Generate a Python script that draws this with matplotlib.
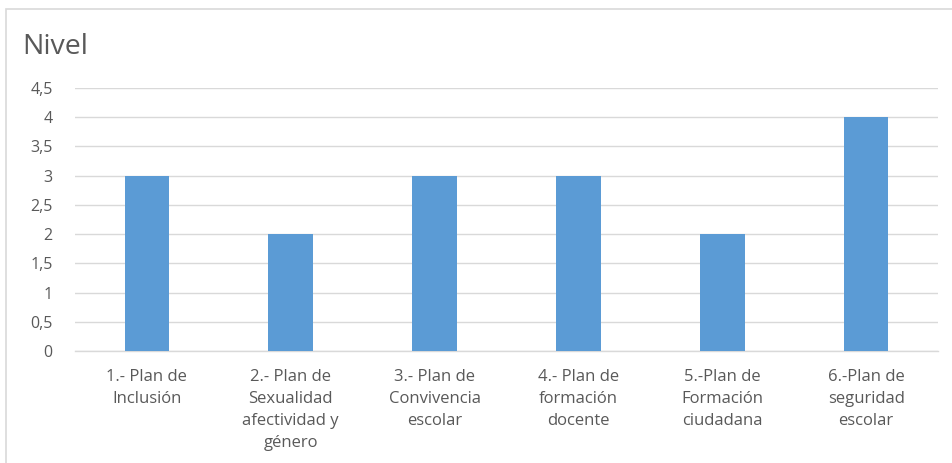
import matplotlib.pyplot as plt
from matplotlib.patches import Rectangle

# datos
categorias = ["1.- Plan de\nInclusión",
              "2.- Plan de\nSexualidad\nafectividad y\ngénero",
              "3.- Plan de\nConvivencia\nescolar",
              "4.- Plan de\nformación\ndocente",
              "5.-Plan de\nFormación\nciudadana",
              "6.-Plan de\nseguridad\nescolar"]
nivel = [3, 2, 3, 3, 2, 4]
y_ticks = [0, 0.5, 1, 1.5, 2, 2.5, 3, 3.5, 4, 4.5]
y_labels = ["0", "0,5", "1", "1,5", "2", "2,5", "3", "3,5", "4", "4,5"]

gris = "#595959"
rejilla = "#d9d9d9"

plt.rcParams['font.family'] = ['Open Sans', 'DejaVu Sans']

fig = plt.figure(figsize=(9.53, 4.63), dpi=100)
ax = fig.add_axes([75/953, 1 - 351/463, (938 - 75)/953, (351 - 88)/463])

x = list(range(len(categorias)))
ax.bar(x, nivel, width=0.31, color="#5b9bd5", zorder=3)

ax.set_xlim(-0.5, len(categorias) - 0.5)
ax.set_ylim(0, 4.5)
ax.set_yticks(y_ticks)
ax.set_yticklabels(y_labels, color=gris, fontsize=11.5)
ax.set_xticks(x)
ax.set_xticklabels(categorias, color=gris, fontsize=12, linespacing=1.5)
ax.tick_params(axis='both', length=0)
ax.tick_params(axis='y', pad=16)
ax.tick_params(axis='x', pad=13)

ax.grid(axis='y', color=rejilla, linewidth=1, zorder=0)
for s in ["top", "right", "left"]:
    ax.spines[s].set_visible(False)
ax.spines["bottom"].set_color(rejilla)
ax.spines["bottom"].set_linewidth(1)

fig.text(22/953, 1 - 47/463, "Nivel", fontsize=20.5, color=gris, va="center", ha="left")

# borde del gráfico
fig.patches.append(Rectangle((6/953, -0.05), 1.05, 0.05 + 1 - 9/463,
                             transform=fig.transFigure, fill=False,
                             edgecolor=rejilla, linewidth=1.2))

plt.savefig("out.png", dpi=100)
